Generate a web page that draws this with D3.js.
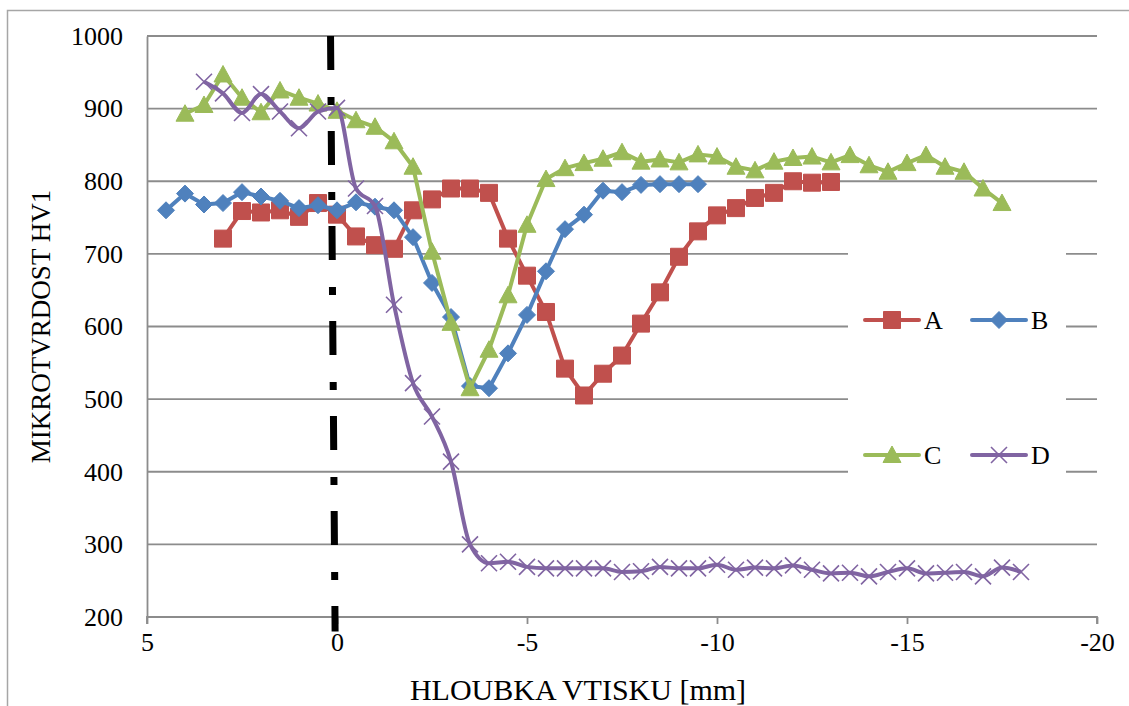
<!DOCTYPE html>
<html>
<head>
<meta charset="utf-8">
<script src="https://cdn.jsdelivr.net/npm/d3@7"></script>
<style>
    body { margin: 0; background: #fff; }
    svg text { font-family: "Liberation Serif", "Times New Roman", serif; fill: #000; }
</style>
</head>
<body>
<div id="chart"></div>
<script>

// depths [mm] and hardness HV1 for each series
let depthA = [3, 2.5, 2, 1.5, 1, 0.5, 0, -0.5, -1, -1.5, -2, -2.5, -3, -3.5, -4, -4.5, -5, -5.5, -6, -6.5, -7,
    -7.5, -8, -8.5, -9, -9.5, -10, -10.5, -11, -11.5, -12, -12.5, -13];
let hardA = [721, 759, 757, 760, 751, 770, 754, 724, 712, 707, 760, 775, 790, 790, 784, 721, 670, 620, 542, 505, 535,
    560, 604, 647, 696, 731, 753, 763, 777, 784, 800, 798, 799];

let depthB = [4.5, 4, 3.5, 3, 2.5, 2, 1.5, 1, 0.5, 0, -0.5, -1, -1.5, -2, -2.5, -3, -3.5, -4, -4.5, -5, -5.5, -6,
    -6.5, -7, -7.5, -8, -8.5, -9, -9.5];
let hardB = [760, 783, 768, 770, 785, 779, 773, 763, 767, 760, 771, 765, 760, 723, 660, 613, 518, 515, 563, 616, 676, 734,
    754, 787, 785, 795, 796, 796, 796];

let depthC = [4, 3.5, 3, 2.5, 2, 1.5, 1, 0.5, 0, -0.5, -1, -1.5, -2, -2.5, -3, -3.5, -4, -4.5, -5, -5.5, -6, -6.5,
    -7, -7.5, -8, -8.5, -9, -9.5, -10, -10.5, -11, -11.5, -12, -12.5, -13, -13.5, -14, -14.5, -15, -15.5, -16, -16.5,
    -17, -17.5];
let hardC = [893, 905, 947, 915, 895, 925, 915, 907, 897, 884, 875, 855, 820, 703, 605, 515, 568, 643, 740, 803, 818, 825,
    831, 840, 827, 830, 826, 837, 834, 820, 815, 827, 832, 834, 826, 836, 822, 813, 825, 836, 820, 813,
    790, 770];

let depthD = [3.5, 3, 2.5, 2, 1.5, 1, 0.5, 0, -0.5, -1, -1.5, -2, -2.5, -3, -3.5, -4, -4.5, -5, -5.5, -6, -6.5, -7,
    -7.5, -8, -8.5, -9, -9.5, -10, -10.5, -11, -11.5, -12, -12.5, -13, -13.5, -14, -14.5, -15, -15.5, -16, -16.5, -17,
    -17.5, -18];
let hardD = [937, 921, 894, 920, 896, 873, 896, 901, 790, 766, 630, 522, 476, 414, 300, 274, 276, 269, 267, 267, 267, 267,
    262, 263, 269, 267, 267, 272, 265, 268, 267, 271, 265, 260, 261, 256, 262, 267, 260, 261, 262, 256,
    268, 262];

// axis ticks and titles
let xTicks = [5, 0, -5, -10, -15, -20];
let yTicks = [200, 300, 400, 500, 600, 700, 800, 900, 1000];
let xTitle = "HLOUBKA VTISKU [mm]";
let yTitle = "MIKROTVRDOST  HV1";

// hand drawn dash-dot marker of the surface (in data units)
let surfaceLine = [[0.17, 1000], [0.05, 180]];

let seriesColors = {A: "#C0504D", B: "#4F81BD", C: "#9BBB59", D: "#8064A2"};

let series = [
    {name: "A", x: depthA, y: hardA, marker: "square", smooth: false},
    {name: "B", x: depthB, y: hardB, marker: "diamond", smooth: false},
    {name: "C", x: depthC, y: hardC, marker: "triangle", smooth: false},
    {name: "D", x: depthD, y: hardD, marker: "cross", smooth: true}
];

let width = 1129, height = 706;
let plot = {left: 147, right: 1097, top: 36, bottom: 617};

let svg = d3.select("#chart").append("svg")
    .attr("width", width)
    .attr("height", height);

// outer frame
svg.append("rect")
    .attr("x", 7.5).attr("y", 10.5)
    .attr("width", width + 20).attr("height", height + 20)
    .attr("fill", "none")
    .attr("stroke", "#a6a6a6")
    .attr("stroke-width", 1.5);

let x = d3.scaleLinear().domain([5, -20]).range([plot.left, plot.right]);
let y = d3.scaleLinear().domain([200, 1000]).range([plot.bottom, plot.top]);

// gridlines
svg.append("g").selectAll("line")
    .data(yTicks.filter(d => d !== 200))
    .enter().append("line")
    .attr("x1", plot.left).attr("x2", plot.right)
    .attr("y1", d => y(d)).attr("y2", d => y(d))
    .attr("stroke", "#8c8c8c")
    .attr("stroke-width", 1.8);

// y axis (labels only, plus line)
let yAxis = d3.axisLeft(y).tickValues(yTicks).tickSize(0).tickPadding(24).tickFormat(d3.format("d"));
let gy = svg.append("g").attr("transform", `translate(${plot.left},0)`).call(yAxis);
gy.select(".domain").attr("stroke", "#8c8c8c").attr("stroke-width", 1.8);
gy.selectAll("text").style("font-size", "26px").style("font-family", "Liberation Serif");

// x axis
let xAxis = d3.axisBottom(x).tickValues(xTicks).tickSize(7).tickPadding(9).tickFormat(d => d);
let gx = svg.append("g").attr("transform", `translate(0,${plot.bottom})`).call(xAxis);
gx.select(".domain").attr("stroke", "#8c8c8c").attr("stroke-width", 1.8).attr("d", `M${plot.left},7V0H${plot.right}V7`);
gx.selectAll(".tick line").attr("stroke", "#8c8c8c").attr("stroke-width", 1.8);
gx.selectAll("text").style("font-size", "26px").style("font-family", "Liberation Serif");

// axis titles
svg.append("text")
    .attr("x", 578)
    .attr("y", 700)
    .attr("text-anchor", "middle")
    .style("font-size", "30px")
    .text(xTitle);

svg.append("text")
    .attr("transform", `translate(50,${(plot.top + plot.bottom) / 2}) rotate(-90)`)
    .attr("text-anchor", "middle")
    .style("font-size", "27px")
    .text(yTitle);

// marker shapes
function markerPath(type) {
    if (type === "square") return "M-8.5,-8.5H8.5V8.5H-8.5Z";
    if (type === "diamond") return "M0,-8.5L8.5,0L0,8.5L-8.5,0Z";
    if (type === "triangle") return "M0,-9L9,7.5H-9Z";
    return "M-8,-8L8,8M-8,8L8,-8";
}

function drawMarker(sel, s) {
    let col = seriesColors[s.name];
    if (s.marker === "cross") {
        sel.attr("d", markerPath("cross"))
            .attr("fill", "none")
            .attr("stroke", col)
            .attr("stroke-width", 1.6);
    } else {
        sel.attr("d", markerPath(s.marker))
            .attr("fill", col)
            .attr("stroke", col)
            .attr("stroke-width", 1);
    }
}

// legend box (white, covers the gridlines)
let legend = {x: 848, y: 248, w: 218, h: 277};
svg.append("rect")
    .attr("x", legend.x).attr("y", legend.y)
    .attr("width", legend.w).attr("height", legend.h)
    .attr("fill", "#fff");

// series
series.forEach(s => {
    let pts = s.x.map((d, i) => [d, s.y[i]]);
    let line = d3.line()
        .x(d => x(d[0]))
        .y(d => y(d[1]))
        .curve(s.smooth ? d3.curveMonotoneX : d3.curveLinear);

    let g = svg.append("g").attr("class", "series-" + s.name);
    g.append("path")
        .datum(pts)
        .attr("fill", "none")
        .attr("stroke", seriesColors[s.name])
        .attr("stroke-width", 4)
        .attr("stroke-linejoin", "round")
        .attr("d", line);

    g.selectAll(".mk")
        .data(pts)
        .enter().append("path")
        .attr("class", "mk")
        .attr("transform", d => `translate(${x(d[0])},${y(d[1])})`)
        .call(drawMarker, s);
});

// legend entries
let legendPos = {
    A: [865, 320], B: [972, 320],
    C: [865, 455], D: [972, 455]
};
series.forEach(s => {
    let [lx, ly] = legendPos[s.name];
    let g = svg.append("g").attr("transform", `translate(${lx},${ly})`);
    g.append("line")
        .attr("x1", 0).attr("x2", 54)
        .attr("stroke", seriesColors[s.name])
        .attr("stroke-width", 4)
        .attr("stroke-linecap", "round");
    g.append("path")
        .attr("transform", "translate(27,0)")
        .call(drawMarker, s);
    g.append("text")
        .attr("x", 59)
        .attr("dy", "0.35em")
        .style("font-size", "26px")
        .text(s.name);
});

// dash-dot surface line drawn on top
svg.append("line")
    .attr("x1", x(surfaceLine[0][0])).attr("y1", y(surfaceLine[0][1]))
    .attr("x2", x(surfaceLine[1][0])).attr("y2", y(surfaceLine[1][1]))
    .attr("stroke", "#000")
    .attr("stroke-width", 7)
    .attr("stroke-dasharray", "34,27,8,26");

</script>
</body>
</html>
